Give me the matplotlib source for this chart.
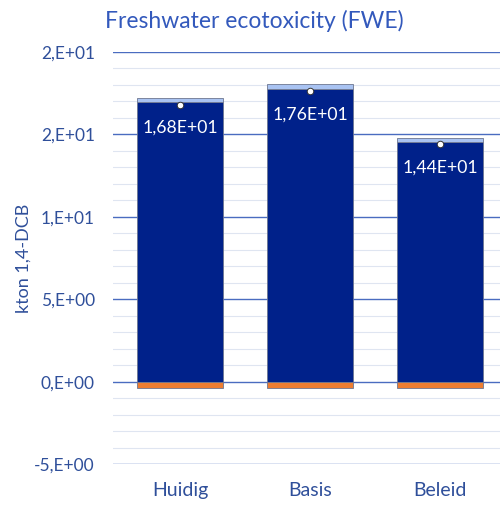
import matplotlib.pyplot as plt
import numpy as np

categories = ['Huidig', 'Basis', 'Beleid']
main_part = [16.95, 17.75, 14.55]
extra_part = [0.25, 0.3, 0.25]
negative_part = [-0.4, -0.4, -0.35]
net_value = [16.8, 17.6, 14.4]
net_labels = ['1,68E+01', '1,76E+01', '1,44E+01']
ytick_values = [-5, 0, 5, 10, 15, 20]
ytick_labels = ['-5,E+00', '0,E+00', '5,E+00', '1,E+01', '2,E+01', '2,E+01']

plt.rcParams['font.family'] = ['Lato', 'DejaVu Sans']
text_blue = '#2F4F9A'

fig = plt.figure(figsize=(5, 5.09), dpi=100)
ax = fig.add_axes([0.226, 0.088, 0.774, 0.81])

x = np.arange(len(categories))
w = 0.66
ax.bar(x, main_part, w, color='#00218A', edgecolor='#6d7690', linewidth=0.6, zorder=3)
ax.bar(x, extra_part, w, bottom=main_part, color='#A9C3F2', edgecolor='#6d7690', linewidth=0.6, zorder=3)
ax.bar(x, negative_part, w, color='#ED7D31', edgecolor='#6d7690', linewidth=0.6, zorder=3)
ax.scatter(x, net_value, s=22, color='white', edgecolor='#333333', linewidth=0.7, zorder=5)

for i in range(len(categories)):
    ax.text(x[i], net_value[i] - 1.4, net_labels[i], ha='center', va='center',
            color='white', fontsize=12.7, zorder=6)

ax.set_xlim(-0.515, 2.46)
ax.set_ylim(-5, 20)
ax.set_yticks(ytick_values)
ax.set_yticklabels(ytick_labels)
ax.set_yticks(np.arange(-5, 20, 1), minor=True)
ax.grid(axis='y', which='major', color='#4a6cc0', linewidth=1.0, zorder=1)
ax.grid(axis='y', which='minor', color='#dfe5f1', linewidth=0.8, zorder=0)
ax.tick_params(axis='both', which='both', length=0, colors=text_blue, labelsize=12.5)
ax.tick_params(axis='y', pad=13)
ax.tick_params(axis='x', pad=13)
ax.set_xticks(x)
ax.set_xticklabels(categories, fontsize=14)
for s in ax.spines.values():
    s.set_visible(False)

ax.set_ylabel('kton 1,4-DCB', color=text_blue, fontsize=13, labelpad=2)
fig.text(0.508, 0.958, 'Freshwater ecotoxicity (FWE)', ha='center', va='center',
         color='#3359BC', fontsize=16.5)

fig.savefig('out.png', dpi=100)
